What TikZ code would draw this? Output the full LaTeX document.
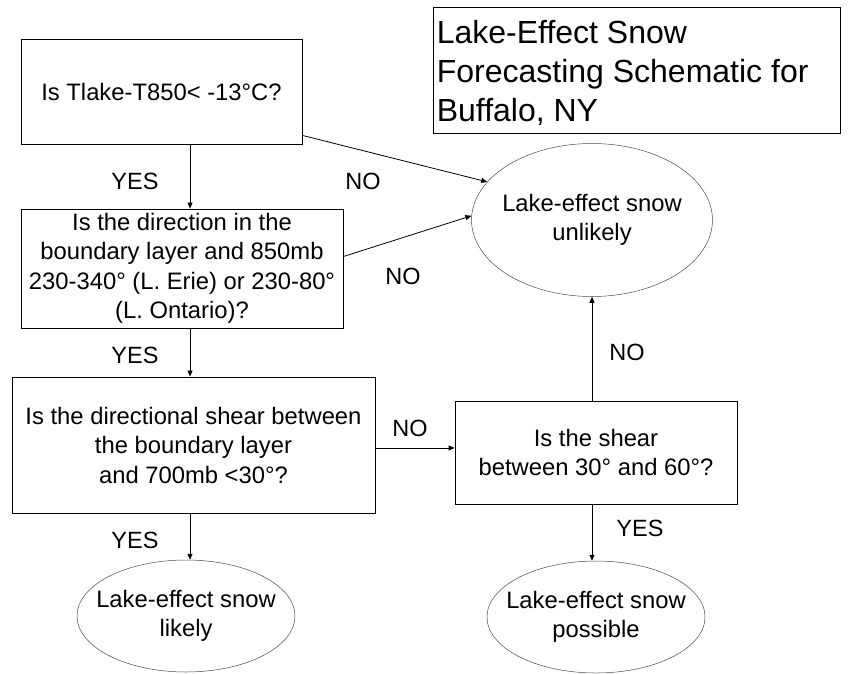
\documentclass[tikz,border=0pt]{standalone}
\usepackage{fontspec}
\setmainfont{Liberation Sans}
\usetikzlibrary{shapes.geometric,arrows.meta}
\begin{document}
\begin{tikzpicture}[x=1pt,y=-1pt,
  box/.style={draw, line width=0.8pt, align=center, inner sep=0pt, font=\fontsize{23.8}{29.5}\selectfont},
  oval/.style={draw, ellipse, line width=0.5pt, draw=black!70, align=center, inner xsep=-40pt, inner ysep=-15pt, font=\fontsize{23.8}{29.5}\selectfont},
  lbl/.style={font=\fontsize{23.5}{25}\selectfont},
  arr/.style={line width=0.8pt, -{Triangle[length=6pt,width=5pt]}}]
\useasboundingbox (0,0) rectangle (849,673);
\node[box, minimum width=281, minimum height=105] (q1) at (161.5,91.5) {Is Tlake-T850< -13°C?};
\node[box, minimum width=322, minimum height=119] (q2) at (182,268.5) {Is the direction in the\\boundary layer and 850mb\\230-340° (L. Erie) or 230-80°\\(L. Ontario)?};
\node[box, minimum width=363, minimum height=136] (q3) at (193.5,445) {Is the directional shear between\\the boundary layer\\and 700mb <30°?};
\node[box, minimum width=282, minimum height=103] (q4) at (596,452.5) {Is the shear\\between 30° and 60°?};
\node[draw, line width=0.8pt, minimum width=407, minimum height=126, inner sep=0pt] (tb) at (636.5,70) {};
\node[anchor=west, align=left, inner sep=0pt, font=\fontsize{32}{39}\selectfont] (title) at ([xshift=4pt,yshift=-3pt]tb.west) {Lake-Effect Snow\\Forecasting Schematic for\\Buffalo, NY};
\node[oval, minimum width=241, minimum height=153] (un) at (592,220) {Lake-effect snow\\unlikely};
\node[oval, minimum width=218, minimum height=112] (li) at (186,616) {Lake-effect snow\\likely};
\node[oval, minimum width=218, minimum height=112] (po) at (596,617) {Lake-effect snow\\possible};
\coordinate (cx) at (190,0);
\coordinate (rx) at (592,0);
\draw[arr] (cx |- q1.south) -- (cx |- q2.north);
\draw[arr] (cx |- q2.south) -- (cx |- q3.north);
\draw[arr] (cx |- q3.south) -- (cx |- li.north);
\draw[arr] ([yshift=-3pt]q3.east) -- ([yshift=-3pt]q3.east -| q4.west);
\draw[arr] (rx |- q4.north) -- (un.south);
\draw[arr] (rx |- q4.south) -- (rx |- po.north);
\draw[arr] ([yshift=9pt]q1.south east) -- (un.160);
\draw[arr] ([yshift=12pt]q2.east) -- (un.178);
\node[lbl] (y1) at (135,181) {YES};
\node[lbl] (y2) at (135,355) {YES};
\node[lbl] (y3) at (135,540) {YES};
\node[lbl] (y4) at (640,528) {YES};
\node[lbl] (n1) at (363,181) {NO};
\node[lbl] (n2) at (403,276) {NO};
\node[lbl] (n3) at (410,428) {NO};
\node[lbl] (n4) at (627,352) {NO};
\end{tikzpicture}
\end{document}
